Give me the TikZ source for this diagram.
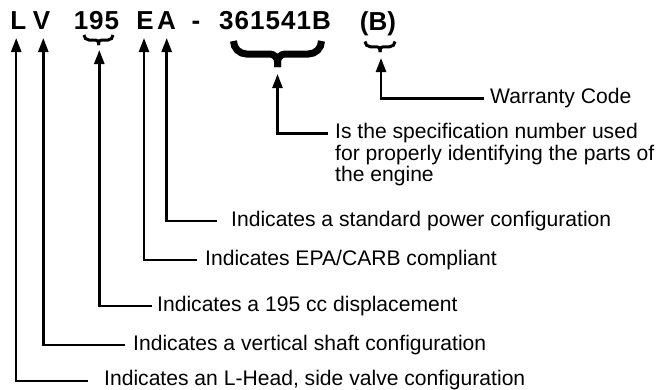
\documentclass[tikz,border=0pt]{standalone}
\usepackage{fontspec}
\setmainfont{Liberation Sans}
\usetikzlibrary{arrows.meta}
\newcommand\mybrace[5]{% centre x, half width, top y, bottom y, thickness
  \pgfmathsetmacro\bxa{#1-#2+#5/2}%
  \pgfmathsetmacro\bxb{#1+#2-#5/2}%
  \pgfmathsetmacro\bh{#4-#3}%
  \pgfmathsetmacro\byb{#3+0.5*\bh}%
  \pgfmathsetmacro\brr{0.5*\bh}%
  \pgfmathsetmacro\brc{0.3*\bh}%
  \draw[line width=#5pt]
    (\bxa,#3) .. controls (\bxa,#3+0.552*\brr) and (\bxa+\brr-0.552*\brr,\byb) .. (\bxa+\brr,\byb)
    -- (#1-\brc,\byb) .. controls (#1-\brc+0.552*\brc,\byb) and (#1,\byb+\brc-0.552*\brc) .. (#1,\byb+\brc)
    -- (#1,#4);
  \draw[line width=#5pt]
    (\bxb,#3) .. controls (\bxb,#3+0.552*\brr) and (\bxb-\brr+0.552*\brr,\byb) .. (\bxb-\brr,\byb)
    -- (#1+\brc,\byb) .. controls (#1+\brc-0.552*\brc,\byb) and (#1,\byb+\brc-0.552*\brc) .. (#1,\byb+\brc)
    -- (#1,#4);
}
\begin{document}
\begin{tikzpicture}[x=1pt,y=-1pt,
  code/.style={font=\fontsize{26}{26}\selectfont\bfseries, inner sep=0pt, anchor=base},
  wide/.style={font=\fontsize{26}{26}\selectfont\bfseries\addfontfeature{LetterSpace=4}},
  lbl/.style={font=\fontsize{21.1}{21.7}\selectfont, inner sep=0pt, anchor=base west},
  arr/.style={line width=2.5pt, -{Triangle[length=14pt,width=10pt]}}]
\useasboundingbox (0,0) rectangle (660,389);
% model code
\node[code] (L) at (18.4,29.3) {L};
\node[code] (V) at (41.5,29.3) {V};
\node[code,wide] (N) at (96.5,29.3) {195};
\node[code] (E) at (145,29.3) {E};
\node[code] (A) at (166.5,29.3) {A};
\node[code] (D) at (196,29.3) {-};
\node[code,wide] (S) at (275,29.3) {361541B};
\node[code] (B) at (378,30.7) {(B)};
% braces
\mybrace{98.5}{16}{35}{45}{3}
\mybrace{277.5}{47.5}{41}{67}{7}
\mybrace{380}{16.5}{41.5}{52}{3}
% labels
\node[lbl] (lW) at (490,103.3) {Warranty Code};
\node[lbl, align=left] (lS) at (335,181.7) {Is the specification number used\\for properly identifying the parts of\\the engine};
\node[lbl] (lA) at (231,226) {Indicates a standard power configuration};
\node[lbl] (lE) at (205,265) {Indicates EPA/CARB compliant};
\node[lbl] (lN) at (157,311) {Indicates a 195 cc displacement};
\node[lbl] (lV) at (133,350) {Indicates a vertical shaft configuration};
\node[lbl] (lL) at (104,385.8) {Indicates an L-Head, side valve configuration};
% connector points
\coordinate (tW) at (381,58);   \coordinate (eW) at (484,98.3);
\coordinate (tS) at (277.5,74); \coordinate (eS) at (328,133.3);
\coordinate (tA) at (166.7,38); \coordinate (eA) at (217,221);
\coordinate (tE) at (144,38);   \coordinate (eE) at (197,260);
\coordinate (tN) at (99.3,50);  \coordinate (eN) at (152,306);
\coordinate (tV) at (43.3,38);  \coordinate (eV) at (125,345);
\coordinate (tL) at (16.2,38);  \coordinate (eL) at (88,381);
\draw[arr] (eW) -| (tW);
\draw[arr] (eS) -| (tS);
\draw[arr] (eA) -| (tA);
\draw[arr] (eE) -| (tE);
\draw[arr] (eN) -| (tN);
\draw[arr] (eV) -| (tV);
\draw[arr] (eL) -| (tL);
\end{tikzpicture}
\end{document}
